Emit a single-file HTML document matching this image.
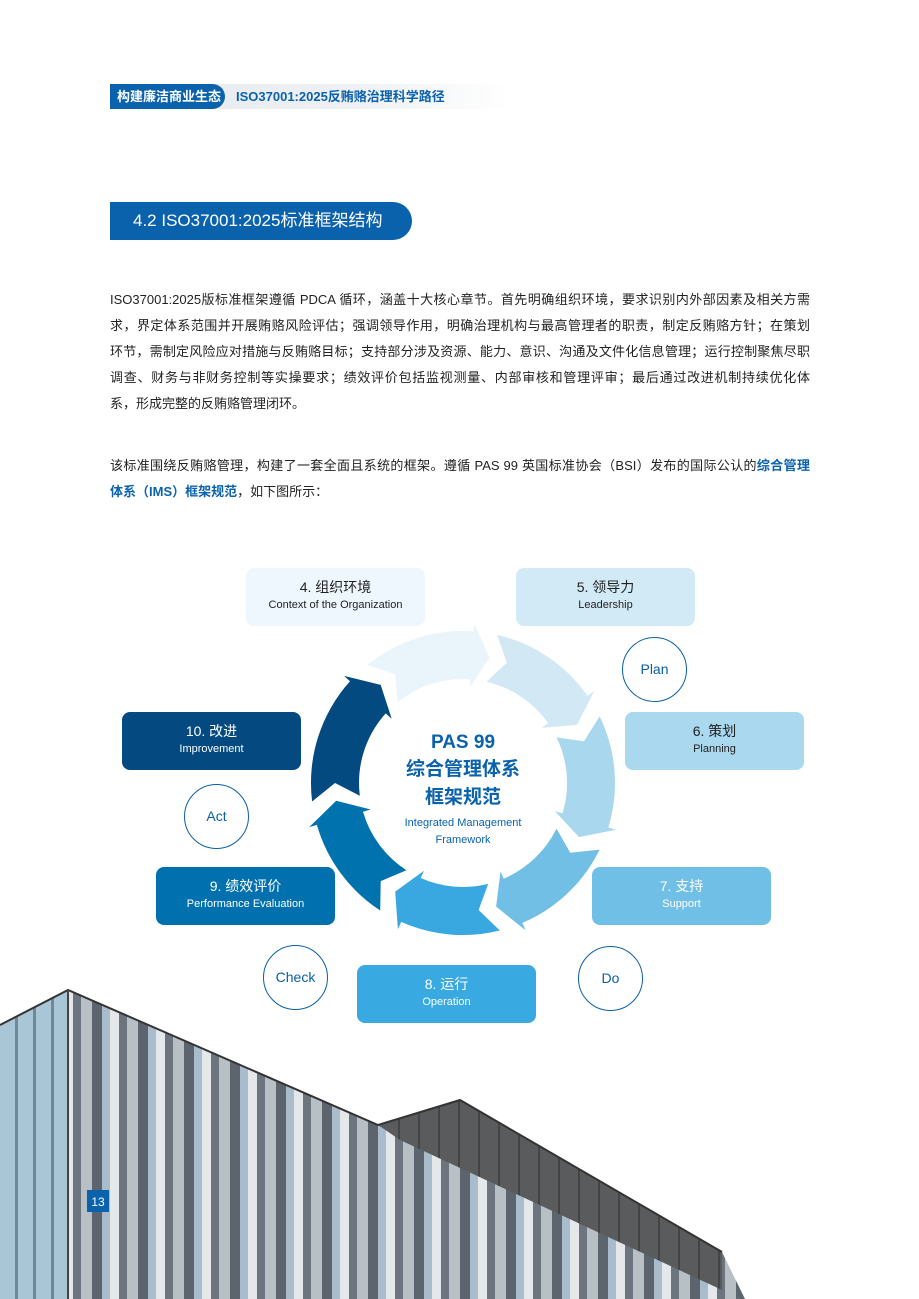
<!DOCTYPE html>
<html><head><meta charset="utf-8">
<style>
*{margin:0;padding:0;box-sizing:border-box}
body{width:919px;height:1299px;position:relative;background:#fff;overflow:hidden;font-family:"Liberation Sans","Noto Sans CJK SC",sans-serif;color:#222}
.abs{position:absolute}
.hdr{left:110px;top:84px;width:400px;height:25px;background:linear-gradient(90deg,#e6e9ee 0%,#eef0f3 60%,rgba(255,255,255,0) 100%)}
.hdrpill{left:110px;top:84px;width:115px;height:25px;background:#0a62ad;border-radius:0 13px 13px 0;color:#fff;font-size:13px;font-weight:bold;line-height:25px;padding-left:7px}
.hdrt{left:236px;top:84px;line-height:25px;font-size:13px;color:#0a62ad;font-weight:bold}
.title{left:110px;top:202px;width:302px;height:38px;background:#0a62ad;border-radius:0 19px 19px 0;color:#fff;font-size:17px;line-height:38px;padding-left:23px}
.p{left:110px;width:700px;font-size:13px;line-height:26px}
.p div{text-align:justify;text-align-last:justify;height:26px;white-space:nowrap;overflow:hidden}
.p div.l{text-align-last:left}
.b{color:#0a62ad;font-weight:bold}
.box{position:absolute;width:179px;height:58px;border-radius:8px;text-align:center;padding-top:9px}
.box .c{font-size:14px;line-height:20px}
.box .e{font-size:11px;line-height:16px}
.circ{position:absolute;width:65px;height:65px;border:1.6px solid #0a5fa8;border-radius:50%;color:#0a5fa8;font-size:14px;text-align:center;line-height:62px;background:#fff}
</style></head><body>
<div class="abs hdr"></div>
<div class="abs hdrpill">构建廉洁商业生态</div>
<div class="abs hdrt">ISO37001:2025反贿赂治理科学路径</div>
<div class="abs title">4.2 ISO37001:2025标准框架结构</div>

<div class="abs p" style="top:287px">
<div>ISO37001:2025版标准框架遵循 PDCA 循环，涵盖十大核心章节。首先明确组织环境，要求识别内外部因素及相关方需</div>
<div>求，界定体系范围并开展贿赂风险评估；强调领导作用，明确治理机构与最高管理者的职责，制定反贿赂方针；在策划</div>
<div>环节，需制定风险应对措施与反贿赂目标；支持部分涉及资源、能力、意识、沟通及文件化信息管理；运行控制聚焦尽职</div>
<div>调查、财务与非财务控制等实操要求；绩效评价包括监视测量、内部审核和管理评审；最后通过改进机制持续优化体</div>
<div class="l">系，形成完整的反贿赂管理闭环。</div>
</div>
<div class="abs p" style="top:453px">
<div>该标准围绕反贿赂管理，构建了一套全面且系统的框架。遵循 PAS 99 英国标准协会（BSI）发布的国际公认的<span class="b">综合管理</span></div>
<div class="l"><span class="b">体系（IMS）框架规范</span>，如下图所示：</div>
</div>

<svg class="abs" style="left:0;top:0" width="919" height="1299">
<defs>
<pattern id="st" width="46" height="60" patternUnits="userSpaceOnUse">
<rect width="46" height="60" fill="#8a9299"/>
<rect x="0" width="10" height="60" fill="#5c656d"/>
<rect x="10" width="8" height="60" fill="#a9bccb"/>
<rect x="18" width="9" height="60" fill="#e4e8ea"/>
<rect x="27" width="8" height="60" fill="#6c757d"/>
<rect x="35" width="11" height="60" fill="#b8c0c6"/>
</pattern>
<pattern id="gl" width="18" height="60" patternUnits="userSpaceOnUse">
<rect width="18" height="60" fill="#a9c6d6"/>
<rect x="15" width="3" height="60" fill="#6f8796"/>
</pattern>
<pattern id="dk" width="20" height="20" patternUnits="userSpaceOnUse">
<rect width="20" height="20" fill="#5a5b5d"/>
<rect x="18" width="2" height="20" fill="#444"/>
</pattern>
</defs>
<polygon points="0,1025 68,990 68,1299 0,1299" fill="url(#gl)"/>
<polygon points="68,990 378,1125 460,1100 722,1252 745,1299 68,1299" fill="url(#st)"/>
<polygon points="378,1125 460,1100 722,1252 722,1290 400,1140" fill="url(#dk)"/>
<polyline points="0,1025 68,990 378,1125 460,1100 722,1252" fill="none" stroke="#333" stroke-width="2"/>
<line x1="68" y1="990" x2="68" y2="1299" stroke="#444" stroke-width="2"/>
<rect x="87" y="1190" width="22" height="22" fill="#0a62ad"/>
<text x="98" y="1206" fill="#fff" font-size="12" text-anchor="middle" font-family="Liberation Sans">13</text>
</svg>

<svg class="abs" id="cyc" style="left:0;top:0" width="919" height="1299"></svg>

<div class="box" style="left:246px;top:568px;background:#eef7fd"><div class="c">4. 组织环境</div><div class="e">Context of the Organization</div></div>
<div class="box" style="left:516px;top:568px;background:#d2e9f6"><div class="c">5. 领导力</div><div class="e">Leadership</div></div>
<div class="box" style="left:625px;top:712px;background:#a9d8ef"><div class="c">6. 策划</div><div class="e">Planning</div></div>
<div class="box" style="left:592px;top:867px;background:#70bfe6;color:#fff"><div class="c">7. 支持</div><div class="e">Support</div></div>
<div class="box" style="left:357px;top:965px;background:#39a9e1;color:#fff"><div class="c">8. 运行</div><div class="e">Operation</div></div>
<div class="box" style="left:156px;top:867px;background:#0071ae;color:#fff"><div class="c">9. 绩效评价</div><div class="e">Performance Evaluation</div></div>
<div class="box" style="left:122px;top:712px;background:#044a80;color:#fff"><div class="c">10. 改进</div><div class="e">Improvement</div></div>

<div class="circ" style="left:622px;top:637px">Plan</div>
<div class="circ" style="left:184px;top:784px">Act</div>
<div class="circ" style="left:263px;top:945px">Check</div>
<div class="circ" style="left:578px;top:946px">Do</div>

<div class="abs" style="left:363px;top:730px;width:200px;text-align:center;color:#0a62ad">
<div style="font-size:19px;font-weight:bold;line-height:26px">PAS 99</div>
<div style="font-size:19px;font-weight:bold;line-height:28px">综合管理体系</div>
<div style="font-size:19px;font-weight:bold;line-height:28px">框架规范</div>
<div style="font-size:11px;line-height:17px;margin-top:3px">Integrated Management<br>Framework</div>
</div>

<script>
(function(){
var cx=463,cy=783,R=152,r=104,m=(R+r)/2,hw=32;
var cols=["#e9f4fb","#d2e8f5","#a9d8ee","#72bfe5","#3aa8e0","#0072ae","#034a80"];
var heads=[12,63,115,165,212,262,320];
function P(rad,deg){var a=deg*Math.PI/180;return (cx+rad*Math.sin(a)).toFixed(1)+","+(cy-rad*Math.cos(a)).toFixed(1);}
var s="";
for(var i=0;i<7;i++){
 var e=heads[i], st=heads[(i+6)%7]; if(st>e) st-=360;
 st+=1; var hb=e-8;
 var d="M"+P(R,st)+" A"+R+","+R+" 0 0 1 "+P(R,hb)+" L"+P(m+hw,hb)+" L"+P(m,e)+" L"+P(m-hw,hb)+" L"+P(r,hb)+" A"+r+","+r+" 0 0 0 "+P(r,st)+" L"+P(m,st+7)+" Z";
 s+='<path d="'+d+'" fill="'+cols[i]+'"/>';
}
document.getElementById("cyc").innerHTML=s;
})();
</script>
</body></html>
